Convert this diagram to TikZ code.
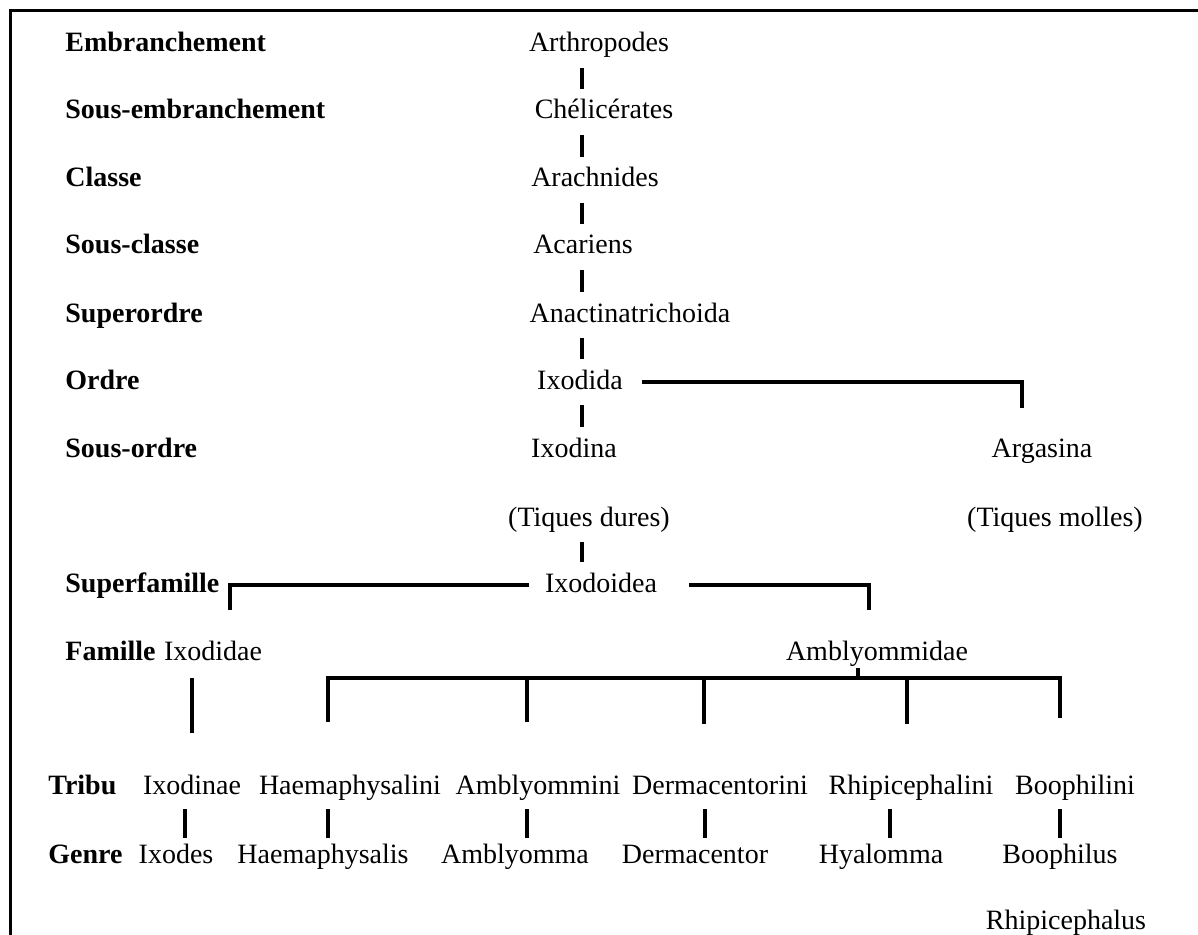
\documentclass[tikz,border=0pt]{standalone}
\usepackage{fontspec}
\setmainfont{Liberation Serif}
\begin{document}
\begin{tikzpicture}[x=0.5pt,y=-0.5pt,
  every node/.style={inner sep=0pt, text height=10pt, text depth=3pt, font=\fontsize{14pt}{16pt}\selectfont},
  rank/.style={anchor=west, font=\fontsize{14pt}{16pt}\selectfont\bfseries},
  conn/.style={line width=1.75pt},
  vconn/.style={conn, shorten <=5pt, shorten >=5pt},
  gconn/.style={conn, shorten <=4.5pt, shorten >=2.5pt},
  frame/.style={line width=1.5pt}]
\clip (0,0) rectangle (1198,935);
\fill[white] (0,0) rectangle (1198,935);
\draw[frame] (10,960) -- (10,11) -- (1220,11);

% ranks
\node[rank] (r1) at (65,45) {Embranchement};
\node[rank] (r2) at (65,112) {Sous-embranchement};
\node[rank] (r3) at (65,180) {Classe};
\node[rank] (r4) at (65,247) {Sous-classe};
\node[rank] (r5) at (65,315) {Superordre};
\node[rank] (r6) at (65,382) {Ordre};
\node[rank] (r7) at (65,450) {Sous-ordre};
\node[rank] (r8) at (65,585) {Superfamille};
\node[rank] (r9) at (65,653) {Famille};
\node[rank] (r10) at (48,787) {Tribu};
\node[rank] (r11) at (48,856) {Genre};

% main column
\node (arth) at (599,45) {Arthropodes};
\node (chel) at (604,112) {Chélicérates};
\node (arach) at (595,180) {Arachnides};
\node (acar) at (583,247) {Acariens};
\node (anac) at (630,315) {Anactinatrichoida};
\node (ixodida) at (580,382) {Ixodida};
\node (ixodina) at (574,450) {Ixodina};
\node (dures) at (589,519) {(Tiques dures)};
\node (ixodoidea) at (601,585) {Ixodoidea};
\node (argasina) at (1042,450) {Argasina};
\node (molles) at (1055,519) {(Tiques molles)};
\node (ixodidae) at (213,653) {Ixodidae};
\node (amblyd) at (877,653) {Amblyommidae};

% tribes
\node (t1) at (192,787) {Ixodinae};
\node (t2) at (350,787) {Haemaphysalini};
\node (t3) at (538,787) {Amblyommini};
\node (t4) at (720,787) {Dermacentorini};
\node (t5) at (911,787) {Rhipicephalini};
\node (t6) at (1075,787) {Boophilini};

% genera
\node (n1) at (176,856) {Ixodes};
\node (n2) at (323,856) {Haemaphysalis};
\node (n3) at (515,856) {Amblyomma};
\node (n4) at (695,856) {Dermacentor};
\node (n5) at (881,856) {Hyalomma};
\node (n6) at (1060,856) {Boophilus};
\node (n7) at (1066,922) {Rhipicephalus};

% column connectors
\coordinate (cx) at (582,0);
\foreach \a/\b in {arth/chel, chel/arach, arach/acar, acar/anac, anac/ixodida, ixodida/ixodina, dures/ixodoidea}
  \draw[vconn] (\a.south -| cx) -- (\b.north -| cx);

% Ixodida -> Argasina
\coordinate (ac) at (1022,0);
\draw[conn, shorten <=9.5pt, shorten >=14.5pt] (ixodida.east) -| (argasina.north -| ac);

% Ixodoidea bracket
\coordinate (fl) at (230,610);
\coordinate (fr) at (869,610);
\draw[conn, shorten <=8pt] (ixodoidea.west) -| (fl);
\draw[conn, shorten <=16pt] (ixodoidea.east) -| (fr);

% Ixodidae -> Ixodinae
\draw[conn, shorten <=6pt, shorten >=20.5pt] (ixodidae.south -| t1) -- (t1.north);

% Amblyommidae bar
\coordinate (tick) at (858,678);
\draw[conn, shorten <=1pt] (amblyd.south -| tick) -- (tick);
\coordinate (bL) at (328,678);
\coordinate (bR) at (1060,678);
\draw[conn, shorten <=26pt, shorten >=28pt] (bL |- t2.north) -- (bL) -- (bR) -- (bR |- t6.north);
\coordinate (b3) at (527,678);
\coordinate (b4) at (704,678);
\coordinate (b5) at (907,678);
\draw[conn, shorten >=26pt] (b3) -- (b3 |- t3.north);
\draw[conn, shorten >=25pt] (b4) -- (b4 |- t4.north);
\draw[conn, shorten >=25pt] (b5) -- (b5 |- t5.north);

% tribe -> genus
\coordinate (g1) at (185,0);
\coordinate (g2) at (328,0);
\coordinate (g3) at (527,0);
\coordinate (g4) at (705,0);
\coordinate (g5) at (890,0);
\coordinate (g6) at (1060,0);
\foreach \i in {1,...,6}
  \draw[gconn] (t\i.south -| g\i) -- (n\i.north -| g\i);
\end{tikzpicture}
\end{document}
